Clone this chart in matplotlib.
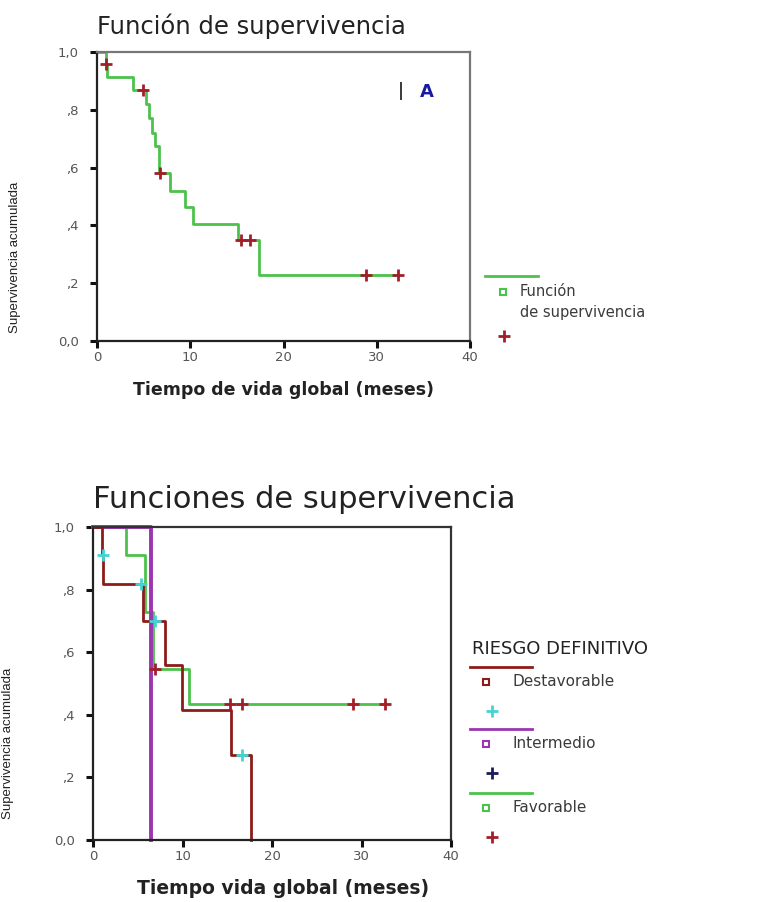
import matplotlib
matplotlib.use("Agg")
from matplotlib import pyplot as plt
from matplotlib.lines import Line2D

# --- data ---
# top chart: overall survival
t_all = [0, 0.95, 1.05, 3.9, 5.3, 5.6, 5.9, 6.2, 6.6, 7.8, 9.4, 10.3, 15.1, 17.4, 32.3]
s_all = [1.0, 0.957, 0.913, 0.868, 0.82, 0.77, 0.72, 0.675, 0.58, 0.52, 0.465, 0.405, 0.35, 0.23, 0.23]
cens_t_all = [1.0, 4.9, 6.8, 15.4, 16.4, 28.9, 32.3]
cens_s_all = [0.957, 0.868, 0.58, 0.35, 0.35, 0.23, 0.23]

# bottom chart: by risk group
t_desf = [0, 1.05, 1.15, 5.6, 8.07, 9.97, 15.37, 17.67]
s_desf = [1.0, 0.909, 0.818, 0.70, 0.56, 0.415, 0.27, 0.0]
cens_t_desf = [1.1, 5.4, 6.9, 16.7]
cens_s_desf = [0.909, 0.818, 0.70, 0.27]

t_inter = [0, 6.5]
s_inter = [1.0, 0.0]

t_fav = [0, 3.7, 5.8, 6.7, 10.7, 32.6]
s_fav = [1.0, 0.909, 0.727, 0.545, 0.436, 0.436]
cens_t_fav = [6.9, 15.3, 16.7, 29.0, 32.6]
cens_s_fav = [0.545, 0.436, 0.436, 0.436, 0.436]

xticks = [0, 10, 20, 30, 40]
yticks = [0, 0.2, 0.4, 0.6, 0.8, 1.0]
ytick_labels = ["0,0", ",2", ",4", ",6", ",8", "1,0"]

green = "#4cc24c"
darkred = "#a11f2a"
brown = "#8c1c1c"
purple = "#9b35b0"
cyan = "#45d4d4"
navy = "#1c1c5c"
txt = "#3a3a3a"

W, H = 763, 902
fig = plt.figure(figsize=(W / 100, H / 100), dpi=100)


def fx(px):
    return px / W


def fy(py):
    return 1 - py / H


def style_axes(ax, spine_col):
    ax.set_xlim(0, 40)
    ax.set_ylim(0, 1.0)
    ax.set_xticks(xticks)
    ax.set_yticks(yticks)
    ax.set_yticklabels(ytick_labels)
    for s in ax.spines.values():
        s.set_color(spine_col)
        s.set_linewidth(1.6)
    ax.spines["left"].set_color("#222222")
    ax.spines["bottom"].set_color("#222222")
    ax.tick_params(direction="out", length=5, width=2.2, color="#111111",
                   labelsize=9.5, labelcolor="#555555")
    ax.tick_params(axis="y", pad=8)
    ax.tick_params(axis="x", pad=2)


# ---------------- top chart ----------------
ax1 = fig.add_axes([fx(97), fy(341), fx(373), 289 / H])
ax1.step(t_all, s_all, where="post", color=green, lw=2, clip_on=False)
ax1.plot(cens_t_all, cens_s_all, ls="none", marker="+", ms=9, mew=2,
         color=darkred, clip_on=False)
style_axes(ax1, "#777777")
ax1.set_xlabel("Tiempo de vida global (meses)", fontsize=12.5, color="#222222",
               fontweight="bold", va="center")
ax1.xaxis.set_label_coords(0.5, -(390 - 341) / 289)
ax1.set_ylabel("Supervivencia acumulada", fontsize=9.5, color="#222222",
               family="Liberation Sans")
ax1.yaxis.set_label_coords(-0.205, 0.29)
ax1.text(32.6, 0.865, "|", fontsize=13, color="black", ha="center", va="center")
ax1.text(35.4, 0.86, "A", fontsize=13, color="#1a1aa0", fontweight="bold",
         ha="center", va="center")

fig.text(fx(97), fy(26), "Función de supervivencia", fontsize=17.5,
         color="#222222", ha="left", va="center")

# legend top (SPSS-style)
fig.add_artist(Line2D([fx(485), fx(538)], [fy(276), fy(276)], color=green, lw=2))
fig.add_artist(Line2D([fx(503)], [fy(292)], marker="s", ms=5, mfc="none",
                      mec=green, mew=1.5, ls="none"))
fig.text(fx(520), fy(292), "Función", fontsize=10.5, color=txt, va="center")
fig.text(fx(520), fy(313), "de supervivencia", fontsize=10.5, color=txt,
         va="center")
fig.add_artist(Line2D([fx(504)], [fy(336)], marker="+", ms=8, mew=2,
                      color=darkred, ls="none"))

# ---------------- bottom chart ----------------
ax2 = fig.add_axes([fx(93), fy(840), fx(358), 313 / H])
ax2.step(t_fav, s_fav, where="post", color=green, lw=2, clip_on=False)
ax2.step(t_inter, s_inter, where="post", color=purple, lw=2.8, clip_on=False)
ax2.step(t_desf, s_desf, where="post", color=brown, lw=2, clip_on=False)
ax2.plot(cens_t_fav, cens_s_fav, ls="none", marker="+", ms=9, mew=2,
         color=darkred, clip_on=False)
ax2.plot(cens_t_desf, cens_s_desf, ls="none", marker="+", ms=9, mew=2,
         color=cyan, clip_on=False)
style_axes(ax2, "#333333")
ax2.set_xlabel("Tiempo vida global (meses)", fontsize=13.5, color="#222222",
               fontweight="bold", va="center")
ax2.xaxis.set_label_coords(0.53, -(888 - 840) / 313)
ax2.set_ylabel("Supervivencia acumulada", fontsize=9.5, color="#222222",
               family="Liberation Sans")
ax2.yaxis.set_label_coords(-0.22, 0.31)

fig.text(fx(93), fy(499), "Funciones de supervivencia", fontsize=22,
         color="#222222", ha="left", va="center")

# legend bottom
fig.text(fx(472), fy(649), "RIESGO DEFINITIVO", fontsize=13, color="#222222",
         va="center")
leg_items = [("Destavorable", brown, cyan, 667),
             ("Intermedio", purple, navy, 729),
             ("Favorable", green, darkred, 793)]
for name, lc, cc, y0 in leg_items:
    fig.add_artist(Line2D([fx(470), fx(532)], [fy(y0), fy(y0)], color=lc, lw=2))
    fig.add_artist(Line2D([fx(486)], [fy(y0 + 15)], marker="s", ms=5,
                          mfc="none", mec=lc, mew=1.5, ls="none"))
    fig.text(fx(513), fy(y0 + 15), name, fontsize=11, color=txt, va="center")
    fig.add_artist(Line2D([fx(492)], [fy(y0 + 44)], marker="+", ms=8, mew=2,
                          color=cc, ls="none"))

fig.savefig("out.png", dpi=100)
